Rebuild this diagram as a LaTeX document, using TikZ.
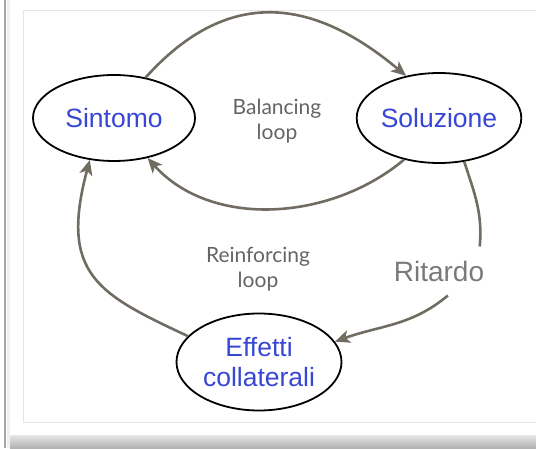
\documentclass[tikz,border=0pt]{standalone}
\usepackage{fontspec}
\setmainfont{Liberation Sans}
\newfontfamily\loopfont{Lato}
\usetikzlibrary{shapes, arrows.meta}

\definecolor{varblue}{RGB}{55,70,212}
\definecolor{loopgray}{RGB}{100,100,100}
\definecolor{delaygray}{RGB}{122,122,122}
\definecolor{linkgray}{RGB}{112,108,98}

\begin{document}
\begin{tikzpicture}[x=1pt, y=1pt,
    var/.style={draw, ellipse, line width=1.8pt, text=varblue, align=center,
        inner sep=0pt, font=\fontsize{26.5}{30}\selectfont},
    link/.style={draw=linkgray, line width=2.6pt,
        -{Stealth[length=15pt, width=13pt, inset=4pt]}},
    plain/.style={draw=linkgray, line width=2.6pt},
    looplabel/.style={text=loopgray, align=center,
        font=\loopfont\fontsize{21}{25}\selectfont}]
    \useasboundingbox (0,0) rectangle (536,448);
    % frame and shadow
    \fill[gray!12] (7,0) rectangle (10,448);
    \draw[gray!70, line width=1.5pt] (5,0) -- (5,448);
    \draw[gray!20, line width=1pt] (23,26) rectangle (545,437);
    \shade[top color=gray!20, bottom color=gray!60] (10,0) rectangle (536,13);

    \node[var, minimum width=162, minimum height=86] (sintomo) at (114,330) {Sintomo};
    \node[var, minimum width=160, minimum height=90] (soluzione) at (439,330) {Soluzione};
    \node[var, minimum width=165, minimum height=97] (effetti) at (259,86) {Effetti\\collaterali};

    \node[looplabel] (balancing) at (277,327) {Balancing\\loop};
    \node[looplabel] (reinforcing) at (258,179) {Reinforcing\\loop};
    \node[text=delaygray, font=\fontsize{28}{30}\selectfont, inner xsep=0pt, inner ysep=14pt] (ritardo) at (439,177) {Ritardo};

    % balancing loop
    \draw[link] (sintomo.52) to[out=48, in=140, looseness=1.2] (soluzione.128);
    \draw[link] (soluzione.230) to[out=220, in=-48, looseness=0.95] (sintomo.310);
    % reinforcing loop
    \draw[plain] (soluzione.300) to[out=-72, in=85] (ritardo.31);
    \draw[link] (ritardo.-70) to[out=-140, in=20] (effetti.15);
    \draw[link] (effetti.160) to[out=155, in=-105, out distance=100pt, in distance=118pt] (sintomo.240);
\end{tikzpicture}
\end{document}
